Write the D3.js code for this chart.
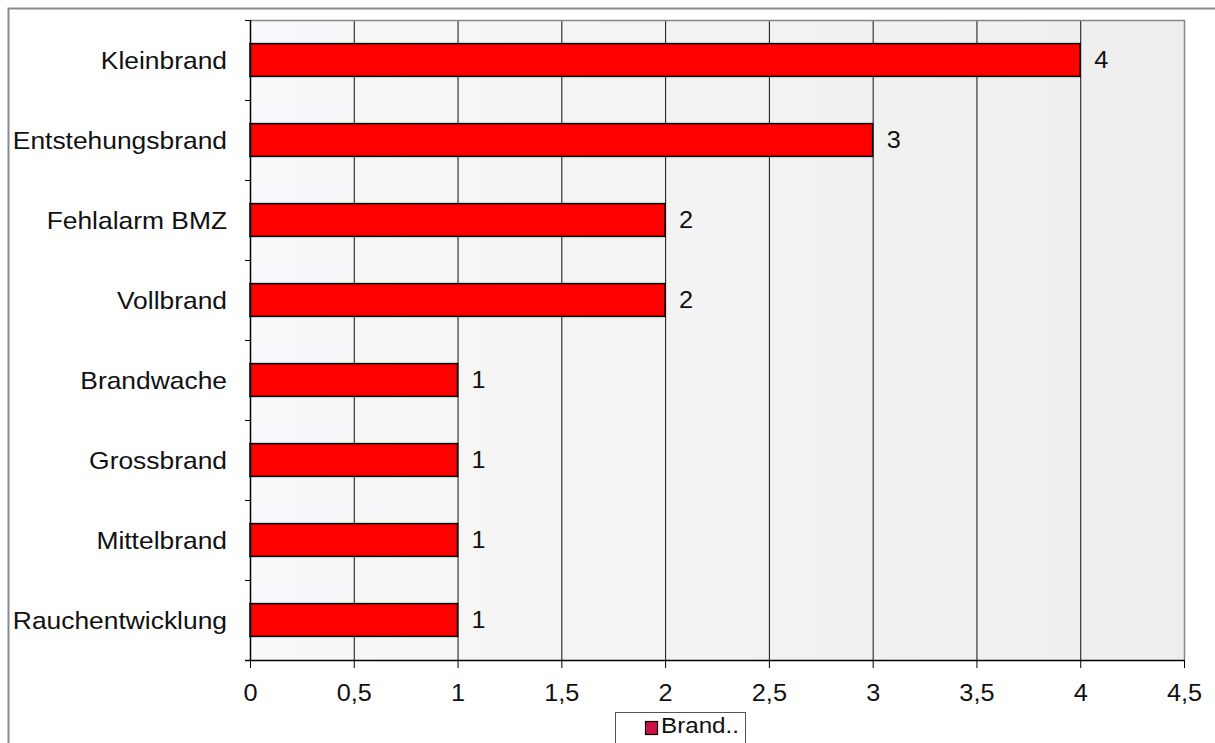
<!DOCTYPE html>
<html><head><meta charset="utf-8">
<script src="https://cdn.jsdelivr.net/npm/d3@7"></script>
<style>html,body{margin:0;padding:0;background:#fff}svg{display:block}</style>
</head><body>
<script>
const categories = ["Kleinbrand","Entstehungsbrand","Fehlalarm BMZ","Vollbrand","Brandwache","Grossbrand","Mittelbrand","Rauchentwicklung"];
const values = [4,3,2,2,1,1,1,1];
const xTicks = [0,0.5,1,1.5,2,2.5,3,3.5,4,4.5];
const seriesName = "Brand..";

const W = 1215, H = 743;
const m = {left:250, top:20, right:1184, bottom:660};
const svg = d3.select("body").append("svg").attr("width",W).attr("height",H);
const font = "'Liberation Sans', Arial, sans-serif";
const SX = 1.1; // horizontal stretch of the original text

// outer border
svg.append("path").attr("d",`M8.5,${H} V8.5 H${W}`).attr("fill","none").attr("stroke","#8a8a8a").attr("stroke-width",2);

const x = d3.scaleLinear().domain([0,4.5]).range([m.left,m.right]);
const y = d3.scaleBand().domain(categories).range([m.top,m.bottom]).paddingInner(0.59).paddingOuter(0.295);
const yb = d3.scaleBand().domain(categories).range([m.top,m.bottom]);

// plot background
const defs = svg.append("defs");
const g0 = defs.append("linearGradient").attr("id","bg").attr("x1","0").attr("x2","1");
g0.append("stop").attr("offset","0").attr("stop-color","#f9f8fa");
g0.append("stop").attr("offset","0.45").attr("stop-color","#f3f3f3");
g0.append("stop").attr("offset","1").attr("stop-color","#eeeeee");
svg.append("rect").attr("x",m.left).attr("y",m.top).attr("width",m.right-m.left).attr("height",m.bottom-m.top).attr("fill","url(#bg)");

// grid
svg.append("g").selectAll("line").data(xTicks.slice(1)).join("line")
  .attr("x1",d=>x(d)+0.5).attr("x2",d=>x(d)+0.5).attr("y1",m.top).attr("y2",m.bottom)
  .attr("stroke","#111").attr("stroke-width",1);
// plot frame top/right
svg.append("path").attr("d",`M${m.left},${m.top+0.5} H${m.right+0.5} V${m.bottom}`).attr("fill","none").attr("stroke","#888").attr("stroke-width",1.5);

// bars
svg.append("g").selectAll("rect").data(categories).join("rect")
  .attr("x",x(0)).attr("y",d=>y(d)).attr("width",(d,i)=>x(values[i])-x(0)).attr("height",y.bandwidth())
  .attr("fill","#ff0000").attr("stroke","#000").attr("stroke-width",1.5);

// value labels
svg.append("g").selectAll("text").data(categories).join("text")
  .attr("transform",(d,i)=>`translate(${x(values[i])+14},${y(d)+y.bandwidth()/2}) scale(${SX},1)`)
  .attr("dy","0.36em")
  .attr("font-family",font).attr("font-size",23).attr("fill","#111")
  .text((d,i)=>values[i]);

// x axis
const xAxis = svg.append("g").attr("transform",`translate(0,${m.bottom})`)
  .call(d3.axisBottom(x).tickValues(xTicks).tickSize(8).tickFormat(d=>String(d).replace(".",",")));
xAxis.select(".domain").attr("stroke","#000").attr("stroke-width",1.5).attr("d",`M${m.left-5},0.5H${m.right+0.5}`);
xAxis.selectAll(".tick line").attr("stroke","#000");
xAxis.selectAll(".tick text").attr("font-family",font).attr("font-size",23).attr("fill","#111")
  .attr("y",0).attr("dy","0").attr("transform",`translate(0,41) scale(${SX},1)`);

// y axis
const yAxis = svg.append("g").attr("transform",`translate(${m.left},0)`);
yAxis.append("line").attr("x1",0.5).attr("x2",0.5).attr("y1",m.top).attr("y2",m.bottom).attr("stroke","#000").attr("stroke-width",1.5);
yAxis.selectAll("line.t").data(categories.concat(["_end"])).join("line").attr("class","t")
  .attr("x1",-5).attr("x2",0).attr("y1",(d,i)=>i<categories.length?yb(d)+0.5:m.bottom+0.5).attr("y2",(d,i)=>i<categories.length?yb(d)+0.5:m.bottom+0.5)
  .attr("stroke","#000");
yAxis.selectAll("text").data(categories).join("text")
  .attr("transform",d=>`translate(-23,${yb(d)+yb.bandwidth()/2}) scale(${SX},1)`)
  .attr("dy","0.36em").attr("text-anchor","end")
  .attr("font-family",font).attr("font-size",24).attr("fill","#111").text(d=>d);

// legend
const lg = svg.append("g");
lg.append("rect").attr("x",615.5).attr("y",712.5).attr("width",130).attr("height",40).attr("fill","#fff").attr("stroke","#555");
lg.append("rect").attr("x",645.5).attr("y",721.5).attr("width",12).attr("height",13).attr("fill","#cc1144").attr("stroke","#000").attr("stroke-width",1.2);
lg.append("text").attr("transform",`translate(661,733) scale(${SX},1)`).attr("font-family",font).attr("font-size",22).attr("fill","#111").text(seriesName);
</script>
</body></html>
